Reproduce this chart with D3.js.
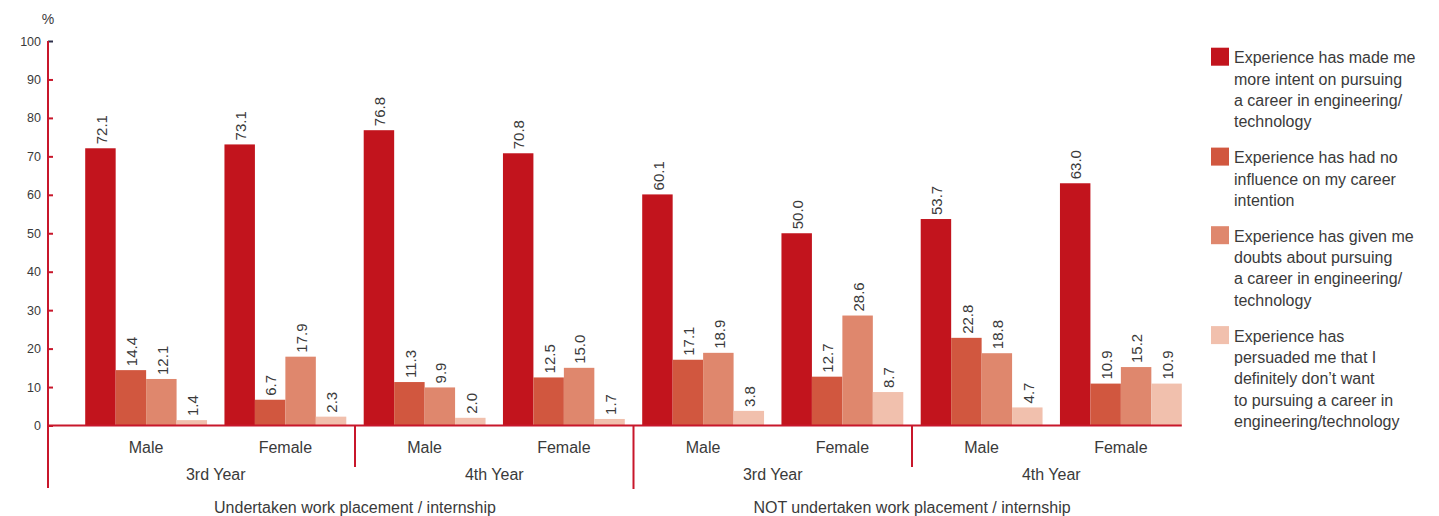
<!DOCTYPE html>
<html>
<head>
<meta charset="utf-8">
<script src="https://cdn.jsdelivr.net/npm/d3@7"></script>
<style>
  html, body { margin: 0; padding: 0; background: #fff; }
  svg { display: block; font-family: "Liberation Sans", Arial, Helvetica, sans-serif; }
</style>
</head>
<body>
<svg id="chart" width="1439" height="516"></svg>
<script>
// Category labels along the x axis (gender), with year and placement groupings
const categories = ["Male", "Female", "Male", "Female", "Male", "Female", "Male", "Female"];
const years = ["3rd Year", "4th Year", "3rd Year", "4th Year"];
const groups = ["Undertaken work placement / internship", "NOT undertaken work placement / internship"];

// Series names (legend lines) and values, one value per category
const seriesNames = [
  ["Experience has made me", "more intent on pursuing", "a career in engineering/", "technology"],
  ["Experience has had no", "influence on my career", "intention"],
  ["Experience has given me", "doubts about pursuing", "a career in engineering/", "technology"],
  ["Experience has", "persuaded me that I", "definitely don\u2019t want", "to pursuing a career in", "engineering/technology"]
];
const moreIntent  = [72.1, 73.1, 76.8, 70.8, 60.1, 50.0, 53.7, 63.0];
const noInfluence = [14.4, 6.7, 11.3, 12.5, 17.1, 12.7, 22.8, 10.9];
const doubts      = [12.1, 17.9, 9.9, 15.0, 18.9, 28.6, 18.8, 15.2];
const notWant     = [1.4, 2.3, 2.0, 1.7, 3.8, 8.7, 4.7, 10.9];
const seriesValues = [moreIntent, noInfluence, doubts, notWant];

const yTicks = [0, 10, 20, 30, 40, 50, 60, 70, 80, 90, 100];

const colors = ["#c2141d", "#d1573f", "#df876d", "#f1c0ad"];
const axisColor = "#c8172b";
const textColor = "#3a3a3a";

const svg = d3.select("#chart");
const axisX = 48;

const y = d3.scaleLinear().domain([0, 100]).range([425.5, 41]);

const catIdx = categories.map((d, i) => i);
const x0 = d3.scaleBand().domain(catIdx).range([76.5, 1190.5])
  .paddingInner(0.125).paddingOuter(0.0625);
const x1 = d3.scaleBand().domain(d3.range(seriesValues.length)).range([0, x0.bandwidth()]);

// Bars
const catG = svg.append("g").selectAll("g").data(catIdx).join("g")
  .attr("transform", i => `translate(${x0(i)},0)`);

catG.selectAll("rect")
  .data(i => seriesValues.map((vals, s) => ({ s, v: vals[i] })))
  .join("rect")
  .attr("x", d => x1(d.s))
  .attr("width", x1.bandwidth())
  .attr("y", d => y(d.v))
  .attr("height", d => y(0) - y(d.v))
  .attr("fill", d => colors[d.s]);

// Value labels, rotated above each bar
catG.selectAll("text")
  .data(i => seriesValues.map((vals, s) => ({ s, v: vals[i] })))
  .join("text")
  .attr("transform", d => `translate(${x1(d.s) + x1.bandwidth() / 2 + 1},${y(d.v) - 4}) rotate(-90)`)
  .attr("dy", "0.35em")
  .attr("font-size", 15)
  .attr("fill", textColor)
  .text(d => d.v.toFixed(1));

// Y axis
const yAxis = d3.axisLeft(y).tickValues(yTicks).tickSizeInner(-5).tickSizeOuter(0).tickPadding(7);
const yg = svg.append("g").attr("transform", `translate(${axisX},0)`).call(yAxis);
yg.select(".domain").remove();
yg.selectAll(".tick line").attr("stroke", axisColor).attr("stroke-width", 2);
yg.selectAll(".tick text").attr("fill", textColor).attr("font-size", 12.5)
  .attr("font-family", "'Liberation Sans', Arial, sans-serif");
yg.selectAll(".tick").filter(d => d === 100).select("line").attr("stroke", "#2d2f4a");

svg.append("line")
  .attr("x1", axisX).attr("x2", axisX)
  .attr("y1", y(100)).attr("y2", 488)
  .attr("stroke", axisColor).attr("stroke-width", 2);

svg.append("text")
  .attr("x", axisX).attr("y", 24)
  .attr("text-anchor", "middle")
  .attr("font-size", 14)
  .attr("fill", textColor)
  .text("%");

// Baseline
svg.append("line")
  .attr("x1", axisX).attr("x2", x0(categories.length - 1) + x0.bandwidth())
  .attr("y1", y(0)).attr("y2", y(0))
  .attr("stroke", axisColor).attr("stroke-width", 2);

// Separators between year blocks (longer one between placement groups)
const sepBetween = (i) => (x0(i) + x0.bandwidth() + x0(i + 1)) / 2;
[[1, 467], [3, 489], [5, 467]].forEach(([i, y2]) => {
  svg.append("line")
    .attr("x1", sepBetween(i)).attr("x2", sepBetween(i))
    .attr("y1", y(0)).attr("y2", y2)
    .attr("stroke", axisColor).attr("stroke-width", 2);
});

const center = i => x0(i) + x0.bandwidth() / 2;

// Category labels
svg.append("g").selectAll("text").data(catIdx).join("text")
  .attr("x", i => center(i)).attr("y", 447)
  .attr("dy", "0.35em")
  .attr("text-anchor", "middle")
  .attr("font-size", 16)
  .attr("fill", textColor)
  .text(i => categories[i]);

// Year labels
svg.append("g").selectAll("text").data(years).join("text")
  .attr("x", (d, k) => (center(2 * k) + center(2 * k + 1)) / 2).attr("y", 474)
  .attr("dy", "0.35em")
  .attr("text-anchor", "middle")
  .attr("font-size", 16)
  .attr("fill", textColor)
  .text(d => d);

// Placement group labels
svg.append("g").selectAll("text").data(groups).join("text")
  .attr("x", (d, k) => (center(4 * k) + center(4 * k + 3)) / 2).attr("y", 507)
  .attr("dy", "0.35em")
  .attr("text-anchor", "middle")
  .attr("font-size", 16)
  .attr("fill", textColor)
  .text(d => d);

// Legend
const lineH = 21.3, itemGap = 14.7;
let ly = 57.7;
const legend = svg.append("g");
seriesNames.forEach((lines, s) => {
  legend.append("rect")
    .attr("x", 1211).attr("y", ly - 10).attr("width", 18).attr("height", 18)
    .attr("fill", colors[s]);
  const t = legend.append("text")
    .attr("font-size", 16)
    .attr("fill", textColor);
  lines.forEach((ln, j) => {
    t.append("tspan")
      .attr("x", 1234).attr("y", ly + j * lineH)
      .attr("dy", "0.35em")
      .text(ln);
  });
  ly += lines.length * lineH + itemGap;
});
</script>
</body>
</html>
